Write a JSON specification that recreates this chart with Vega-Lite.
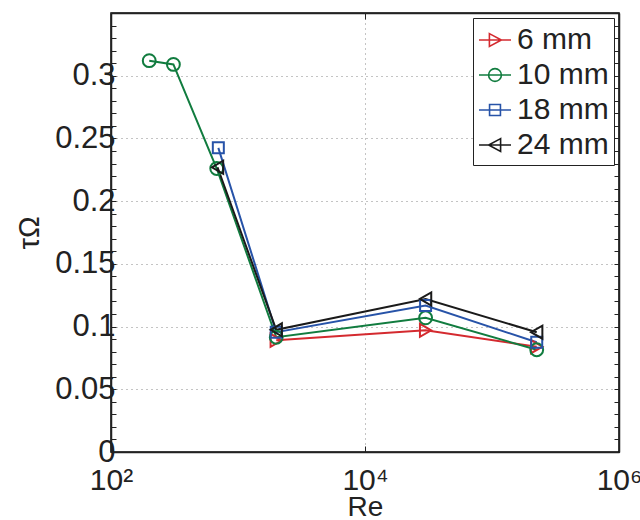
{
  "$schema": "https://vega.github.io/schema/vega-lite/v6.json",
  "autosize": "none",
  "width": 508,
  "height": 439,
  "padding": {"left": 111, "top": 13, "right": 21, "bottom": 68},
  "background": "white",
  "config": {
    "font": "Liberation Sans",
    "view": {"stroke": "black", "strokeWidth": 1.5},
    "axis": {"domainColor": "#222", "domainWidth": 1.5, "tickColor": "#222", "labelColor": "#222", "titleColor": "#222", "labelFont": "Liberation Sans", "titleFont": "Liberation Sans", "titleFontWeight": "normal"},
    "legend": {
      "orient": "none", "legendX": 362, "legendY": 5, "title": null,
      "labelFontSize": 30, "labelFont": "Liberation Sans", "labelColor": "#222",
      "symbolSize": 1024, "symbolStrokeWidth": 1.6,
      "padding": 5, "rowPadding": 3, "labelOffset": 5,
      "strokeColor": "#222", "fillColor": "white"
    }
  },
  "data": {
    "values": [
      {"series": "6 mm", "Re": 2000, "tau": 0.089},
      {"series": "6 mm", "Re": 30000, "tau": 0.097},
      {"series": "6 mm", "Re": 225000, "tau": 0.084},
      {"series": "10 mm", "Re": 200, "tau": 0.312},
      {"series": "10 mm", "Re": 310, "tau": 0.309},
      {"series": "10 mm", "Re": 680, "tau": 0.226},
      {"series": "10 mm", "Re": 2000, "tau": 0.0915},
      {"series": "10 mm", "Re": 30000, "tau": 0.107},
      {"series": "10 mm", "Re": 225000, "tau": 0.0815},
      {"series": "18 mm", "Re": 700, "tau": 0.2425},
      {"series": "18 mm", "Re": 2000, "tau": 0.0955},
      {"series": "18 mm", "Re": 30000, "tau": 0.1167},
      {"series": "18 mm", "Re": 225000, "tau": 0.0875},
      {"series": "24 mm", "Re": 690, "tau": 0.227},
      {"series": "24 mm", "Re": 2000, "tau": 0.0974},
      {"series": "24 mm", "Re": 30000, "tau": 0.122},
      {"series": "24 mm", "Re": 225000, "tau": 0.0955}
    ]
  },
  "resolve": {"axis": {"x": "independent", "y": "independent"}},
  "layer": [
    {
      "mark": {"type": "line", "strokeWidth": 2},
      "encoding": {
        "x": {
          "field": "Re", "type": "quantitative",
          "scale": {"type": "log", "domain": [100, 1000000], "nice": false},
          "axis": {
            "orient": "bottom", "values": [100, 10000, 1000000],
            "labelExpr": "datum.value == 100 ? '10²' : datum.value == 10000 ? '10⁴' : '10⁶'",
            "labelFontSize": 30, "labelPadding": 19, "tickSize": -6, "labelFlush": false,
            "grid": true, "gridDash": [1, 4], "gridColor": "#888", "gridWidth": 1,
            "title": "Re", "titleFontSize": 28, "titlePadding": -2
          }
        },
        "y": {
          "field": "tau", "type": "quantitative",
          "scale": {"domain": [0, 0.35], "nice": false, "zero": true},
          "axis": {
            "orient": "left",
            "values": [0, 0.01, 0.02, 0.03, 0.04, 0.05, 0.06, 0.07, 0.08, 0.09, 0.1, 0.11, 0.12, 0.13, 0.14, 0.15, 0.16, 0.17, 0.18, 0.19, 0.2, 0.21, 0.22, 0.23, 0.24, 0.25, 0.26, 0.27, 0.28, 0.29, 0.3, 0.31, 0.32, 0.33, 0.34, 0.35],
            "labelExpr": "round(datum.value * 100) % 5 == 0 && datum.value < 0.34 ? toString(round(datum.value * 100) / 100) : ''",
            "labelFontSize": 31, "labelPadding": 1, "tickSize": -5, "labelFlush": false, "labelOverlap": false,
            "grid": true, "gridDash": [1, 4], "gridColor": "#888", "gridWidth": 1,
            "gridOpacity": {"condition": {"test": "round(datum.value * 100) % 5 == 0", "value": 1}, "value": 0},
            "title": "τΩ", "titleFontSize": 29, "titlePadding": 10
          }
        },
        "color": {
          "field": "series", "type": "nominal",
          "scale": {"domain": ["6 mm", "10 mm", "18 mm", "24 mm"], "range": ["#d42a2f", "#117c3f", "#2753a8", "#1a1a1a"]},
          "legend": {
            "encode": {
              "symbols": {
                "update": {
                  "shape": {"signal": "datum.value == '6 mm' ? 'M-1,0H1M-0.35,-0.4L0.4,0L-0.35,0.4Z' : datum.value == '10 mm' ? 'M-1,0H1M0.4,0A0.4,0.4 0 1,1 -0.4,0A0.4,0.4 0 1,1 0.4,0' : datum.value == '18 mm' ? 'M-1,0H1M-0.34,-0.34H0.34V0.34H-0.34Z' : 'M-1,0H1M0.35,-0.4L-0.4,0L0.35,0.4Z'"},
                  "fill": {"value": "transparent"}
                }
              }
            }
          }
        },
        "detail": {"field": "series"}
      }
    },
    {
      "transform": [{"filter": {"field": "series", "equal": "6 mm"}}],
      "mark": {"type": "point", "shape": "triangle-right", "filled": false, "strokeWidth": 2, "size": 170, "opacity": 1},
      "encoding": {
        "x": {
          "field": "Re", "type": "quantitative",
          "scale": {"type": "log", "domain": [100, 1000000], "nice": false},
          "axis": {"orient": "top", "values": [100, 10000, 1000000], "labels": false, "tickSize": -6, "grid": false, "title": null}
        },
        "y": {
          "field": "tau", "type": "quantitative",
          "scale": {"domain": [0, 0.35], "nice": false},
          "axis": {
            "orient": "right",
            "values": [0, 0.01, 0.02, 0.03, 0.04, 0.05, 0.06, 0.07, 0.08, 0.09, 0.1, 0.11, 0.12, 0.13, 0.14, 0.15, 0.16, 0.17, 0.18, 0.19, 0.2, 0.21, 0.22, 0.23, 0.24, 0.25, 0.26, 0.27, 0.28, 0.29, 0.3, 0.31, 0.32, 0.33, 0.34, 0.35],
            "labels": false, "tickSize": -5, "grid": false, "title": null
          }
        },
        "color": {"field": "series", "type": "nominal"}
      }
    },
    {
      "transform": [{"filter": {"field": "series", "equal": "10 mm"}}],
      "mark": {"type": "point", "shape": "circle", "filled": false, "strokeWidth": 2, "size": 165, "opacity": 1},
      "encoding": {
        "x": {"field": "Re", "type": "quantitative", "axis": null},
        "y": {"field": "tau", "type": "quantitative", "axis": null},
        "color": {"field": "series", "type": "nominal"}
      }
    },
    {
      "transform": [{"filter": {"field": "series", "equal": "18 mm"}}],
      "mark": {"type": "point", "shape": "square", "filled": false, "strokeWidth": 2, "size": 121, "opacity": 1},
      "encoding": {
        "x": {"field": "Re", "type": "quantitative", "axis": null},
        "y": {"field": "tau", "type": "quantitative", "axis": null},
        "color": {"field": "series", "type": "nominal"}
      }
    },
    {
      "transform": [{"filter": {"field": "series", "equal": "24 mm"}}],
      "mark": {"type": "point", "shape": "triangle-left", "filled": false, "strokeWidth": 2, "size": 170, "opacity": 1},
      "encoding": {
        "x": {"field": "Re", "type": "quantitative", "axis": null},
        "y": {"field": "tau", "type": "quantitative", "axis": null},
        "color": {"field": "series", "type": "nominal"}
      }
    }
  ]
}
